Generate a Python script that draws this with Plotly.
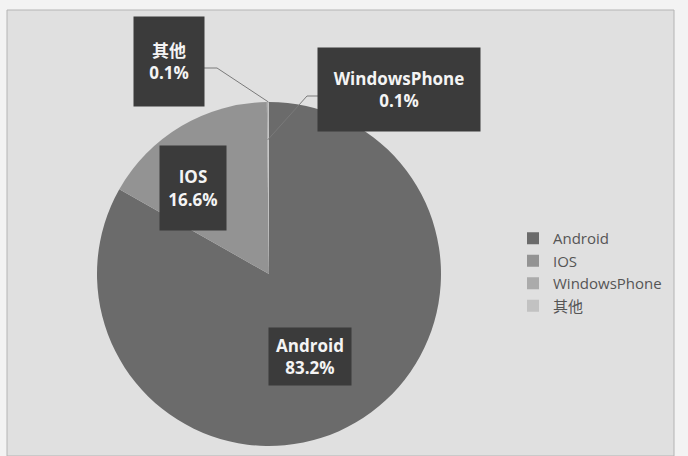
import math
import plotly.graph_objects as go

# ---- data ----
labels = ["Android", "IOS", "WindowsPhone", "其他"]
values = [83.2, 16.6, 0.1, 0.1]
pct_text = ["83.2%", "16.6%", "0.1%", "0.1%"]
colors = ["#6b6b6b", "#939393", "#ababab", "#c2c2c2"]

W, H = 688, 456
CX, CY, R = 269, 274, 172  # pie centre / radius in pixels

fig = go.Figure(go.Pie(
    labels=labels, values=values, sort=False, direction="clockwise", rotation=0,
    marker=dict(colors=colors, line=dict(width=0)),
    textinfo="none", hoverinfo="label+percent",
    domain=dict(x=[(CX - R) / W, (CX + R) / W], y=[1 - (CY + R) / H, 1 - (CY - R) / H]),
    showlegend=True,
))

def px2paper(x, y):
    return x / W, 1 - y / H

def slice_point(idx, rr):
    total = sum(values)
    start = sum(values[:idx])
    frac = (start + values[idx] / 2) / total
    a = 2 * math.pi * frac
    return CX + rr * R * math.sin(a), CY - rr * R * math.cos(a)

# label boxes: (index, centre x, centre y, width, height)
boxes = [
    (0, 310, 356, 82, 57),
    (1, 193, 188, 66, 84),
    (2, 399, 89, 162, 83),
    (3, 169, 62, 70, 89),
]
annotations = []
for idx, bx, by, bw, bh in boxes:
    x, y = px2paper(bx, by)
    annotations.append(dict(
        x=x, y=y, xref="paper", yref="paper", xanchor="center", yanchor="middle",
        text=f"{labels[idx]}<br>{pct_text[idx]}", showarrow=False,
        width=bw, height=bh, bgcolor="#3b3b3b", borderpad=0,
        font=dict(family="Open Sans, Noto Sans CJK SC", size=17, color="#f4f4f4", weight="bold"),
    ))

# background frame + leader lines for outside labels (box edge -> elbow -> slice)
shapes = [dict(type="rect", xref="paper", yref="paper",
               x0=7 / W, x1=674 / W, y0=0, y1=1 - 10 / H,
               fillcolor="#e0e0e0", line=dict(color="#b4b4b4", width=1), layer="below")]
leaders = [
    (3, (204, 68), (217, 68), 1.0),
    (2, (318, 96), (307, 96), 0.78),
]
for idx, p0, p1, rr in leaders:
    tx, ty = slice_point(idx, rr)
    pts = [px2paper(*p0), px2paper(*p1), px2paper(tx, ty)]
    path = "M {} {} L {} {} L {} {}".format(*[c for p in pts for c in p])
    shapes.append(dict(type="path", xref="paper", yref="paper", path=path,
                       line=dict(color="#7a7a7a", width=1)))

fig.update_layout(
    width=W, height=H, margin=dict(l=0, r=0, t=0, b=0),
    paper_bgcolor="#f3f3f3", plot_bgcolor="#f3f3f3",
    annotations=annotations, shapes=shapes,
    legend=dict(x=513 / W, y=1 - 222 / H, xanchor="left", yanchor="top",
                font=dict(family="Open Sans, Noto Sans CJK SC", size=15, color="#555555"),
                bgcolor="rgba(0,0,0,0)", itemclick=False),
)

fig.write_html("out.html")
